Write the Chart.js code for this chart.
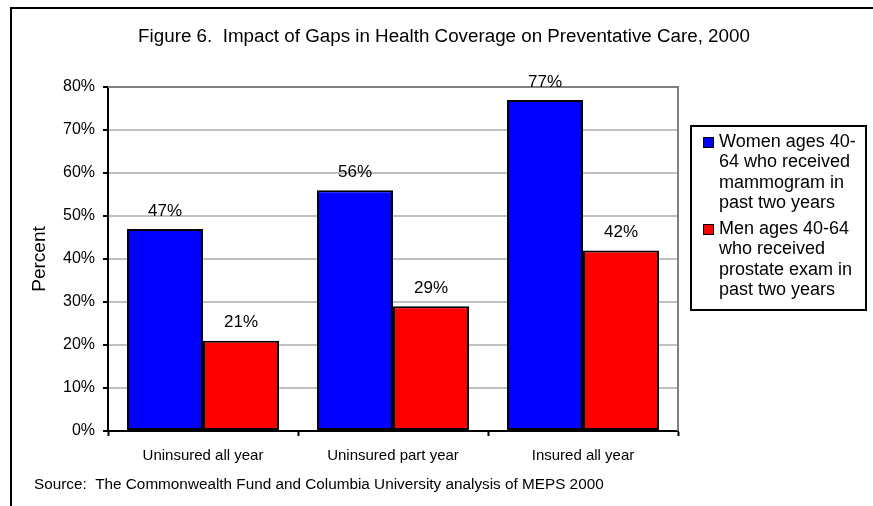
<!DOCTYPE html>
<html>
<head>
<meta charset="utf-8">
<title>Figure 6</title>
<script src="https://cdn.jsdelivr.net/npm/chart.js@4"></script>
<style>
  body { margin: 0; background: #fff; }
  #wrap { width: 873px; height: 506px; }
</style>
</head>
<body>
<div id="wrap"><canvas id="gapsChart" width="873" height="506"></canvas></div>
<script>
// Data
const categories = ['Uninsured all year', 'Uninsured part year', 'Insured all year'];
const womenValues = [47, 56, 77];
const menValues = [21, 29, 42];
const womenLabel = ['Women ages 40-', '64 who received', 'mammogram in', 'past two years'];
const menLabel = ['Men ages 40-64', 'who received', 'prostate exam in', 'past two years'];
const yTickMax = 80;
const yTickStep = 10;

const titleText = 'Figure 6.  Impact of Gaps in Health Coverage on Preventative Care, 2000';
const sourceText = 'Source:  The Commonwealth Fund and Columbia University analysis of MEPS 2000';
const FONT = 'Arial, "Liberation Sans", sans-serif';

// frame, title, source, plot border, value labels and the legend box
const decor = {
    id: 'decor',
    beforeDraw(chart) {
        const c = chart.ctx;
        c.save();
        c.fillStyle = '#fff';
        c.fillRect(0, 0, chart.width, chart.height);
        c.strokeStyle = '#000';
        c.lineWidth = 2;
        c.beginPath();
        c.moveTo(11, chart.height);
        c.lineTo(11, 8);
        c.lineTo(chart.width, 8);
        c.stroke();

        c.fillStyle = '#000';
        c.font = '18.8px ' + FONT;
        c.textAlign = 'center';
        c.textBaseline = 'middle';
        c.fillText(titleText, 444, 37);

        c.font = '15.3px ' + FONT;
        c.textAlign = 'left';
        c.fillText(sourceText, 34, 485);
        c.restore();
    },
    beforeDatasetsDraw(chart) {
        const {ctx, chartArea} = chart;
        ctx.save();
        ctx.strokeStyle = '#808080';
        ctx.lineWidth = 2;
        ctx.beginPath();
        ctx.moveTo(chartArea.left, chartArea.top);
        ctx.lineTo(chartArea.right, chartArea.top);
        ctx.lineTo(chartArea.right, chartArea.bottom);
        ctx.stroke();
        ctx.restore();
    },
    afterDatasetsDraw(chart) {
        const c = chart.ctx;
        c.save();
        c.fillStyle = '#000';
        c.font = '17px ' + FONT;
        c.textAlign = 'center';
        c.textBaseline = 'middle';
        chart.data.datasets.forEach((ds, i) => {
            chart.getDatasetMeta(i).data.forEach((bar, j) => {
                c.fillText(ds.data[j] + '%', bar.x, bar.y - 18);
            });
        });

        // legend
        const box = {x: 691, y: 126, w: 175, h: 184};
        c.strokeStyle = '#000';
        c.lineWidth = 2;
        c.strokeRect(box.x, box.y, box.w, box.h);
        c.font = '18px ' + FONT;
        c.textAlign = 'left';
        let y = 142;
        chart.data.datasets.forEach(ds => {
            c.fillStyle = ds.backgroundColor;
            c.fillRect(703, y - 5, 10, 10);
            c.lineWidth = 1;
            c.strokeStyle = '#000';
            c.strokeRect(703.5, y - 4.5, 10, 10);
            c.fillStyle = '#000';
            ds.label.forEach(line => {
                c.fillText(line, 719, y);
                y += 20.5;
            });
            y += 5;
        });
        c.restore();
    }
};

const ctx = document.getElementById('gapsChart').getContext('2d');
const gapsChart = new Chart(ctx, {
    type: 'bar',
    data: {
        labels: categories,
        datasets: [{
            label: womenLabel,
            data: womenValues,
            backgroundColor: '#0000ff',
            borderColor: '#000',
            borderWidth: 2,
            borderSkipped: false
        }, {
            label: menLabel,
            data: menValues,
            backgroundColor: '#ff0000',
            borderColor: '#000',
            borderWidth: 2,
            borderSkipped: false
        }]
    },
    options: {
        responsive: false,
        animation: false,
        layout: { padding: { top: 87, right: 195, left: 0, bottom: 0 } },
        datasets: { bar: { categoryPercentage: 0.8, barPercentage: 1.0 } },
        plugins: {
            legend: { display: false },
            title: { display: false },
            tooltip: { enabled: false }
        },
        scales: {
            x: {
                grid: { drawOnChartArea: false, tickColor: '#000', tickLength: 5, tickWidth: 2 },
                border: { color: '#000', width: 2 },
                ticks: { color: '#000', font: { family: FONT, size: 15 }, padding: 11, maxRotation: 0 },
                afterFit(scale) { scale.height = 75; }
            },
            y: {
                min: 0,
                max: yTickMax,
                grid: { color: '#c0c0c0', lineWidth: 2, tickColor: '#000', tickLength: 5, tickWidth: 2 },
                border: { color: '#000', width: 2 },
                ticks: {
                    stepSize: yTickStep,
                    color: '#000',
                    font: { family: FONT, size: 16 },
                    padding: 8,
                    callback: v => v + '%'
                },
                title: {
                    display: true,
                    text: 'Percent',
                    color: '#000',
                    font: { family: FONT, size: 19 },
                    padding: { top: 28, bottom: 0 }
                },
                afterFit(scale) { scale.width = 108; }
            }
        }
    },
    plugins: [decor]
});
</script>
</body>
</html>
